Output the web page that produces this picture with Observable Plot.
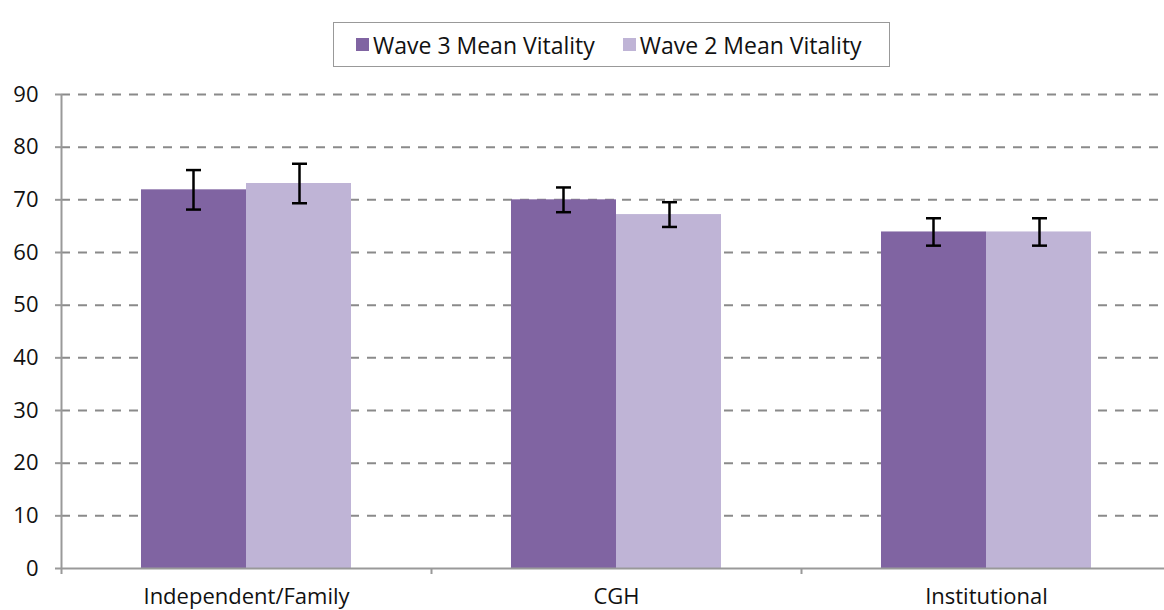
<!DOCTYPE html>
<html>
<head>
<meta charset="utf-8">
<script src="https://cdn.jsdelivr.net/npm/d3@7"></script>
<script src="https://cdn.jsdelivr.net/npm/@observablehq/plot@0.6"></script>
<style>
  html, body { margin: 0; padding: 0; background: #fff; }
  body { width: 1164px; height: 610px; overflow: hidden; font-family: "Open Sans", sans-serif; }
  #legend-area { position: relative; height: 70px; }
  #legend { position: absolute; left: 333px; top: 22px; width: 533px; height: 43px; padding-left: 22px;
    border: 1.5px solid #999; display: flex; align-items: center; justify-content: flex-start;
    font-size: 23px; color: #111; gap: 28px; }
  .item { display: flex; align-items: center; gap: 4px; }
  .sw { width: 13px; height: 13px; display: inline-block; }
  #chart svg { display: block; overflow: hidden; }
</style>
</head>
<body>
<div id="legend-area"><div id="legend"></div></div>
<div id="chart"></div>
<script>
const categories = ["Independent/Family", "CGH", "Institutional"];
const seriesNames = ["Wave 3 Mean Vitality", "Wave 2 Mean Vitality"];
const seriesColors = ["#8064A2", "#BFB4D6"];
const wave3 = [71.9, 70.0, 63.9];
const wave2 = [73.1, 67.2, 63.9];
const wave3Err = [3.75, 2.35, 2.6];
const wave2Err = [3.75, 2.35, 2.6];
const yTicks = [0, 10, 20, 30, 40, 50, 60, 70, 80, 90];

const rows3 = categories.map((c, i) => ({cat: c, value: wave3[i], err: wave3Err[i]}));
const rows2 = categories.map((c, i) => ({cat: c, value: wave2[i], err: wave2Err[i]}));

// legend
const legend = document.getElementById("legend");
seriesNames.forEach((s, i) => {
  const it = document.createElement("div");
  it.className = "item";
  const sw = document.createElement("span");
  sw.className = "sw";
  sw.style.background = seriesColors[i];
  const tx = document.createElement("span");
  tx.textContent = s;
  it.appendChild(sw); it.appendChild(tx);
  legend.appendChild(it);
});

const axisColor = "#999";
const font = "Open Sans, sans-serif";

const chart = Plot.plot({
  width: 1164,
  height: 540,
  marginTop: 24,
  marginBottom: 42,
  marginLeft: 61,
  marginRight: 0,
  style: {fontFamily: font, fontSize: "22px", color: "#111", background: "#fff", overflow: "hidden"},
  x: {domain: categories, range: [61, 1171], padding: 0, axis: null},
  y: {domain: [0, 90], axis: null},
  marks: [
    Plot.ruleY(yTicks.filter(t => t > 0), {y: d => d, stroke: "#8a8a8a", strokeWidth: 2, strokeDasharray: "9,8"}),
    Plot.barY(rows3, {x: "cat", y: "value", fill: seriesColors[0], insetLeft: 80, insetRight: 185}),
    Plot.barY(rows2, {x: "cat", y: "value", fill: seriesColors[1], insetLeft: 185, insetRight: 80}),
    // error bars
    Plot.ruleX(rows3, {x: "cat", y1: d => d.value - d.err, y2: d => d.value + d.err, dx: -53, stroke: "#000", strokeWidth: 2.5}),
    Plot.ruleX(rows2, {x: "cat", y1: d => d.value - d.err, y2: d => d.value + d.err, dx: 53, stroke: "#000", strokeWidth: 2.5}),
    Plot.tickY(rows3, {x: "cat", y: d => d.value - d.err, insetLeft: 125, insetRight: 230, stroke: "#000", strokeWidth: 2.5}),
    Plot.tickY(rows3, {x: "cat", y: d => d.value + d.err, insetLeft: 125, insetRight: 230, stroke: "#000", strokeWidth: 2.5}),
    Plot.tickY(rows2, {x: "cat", y: d => d.value - d.err, insetLeft: 231, insetRight: 124, stroke: "#000", strokeWidth: 2.5}),
    Plot.tickY(rows2, {x: "cat", y: d => d.value + d.err, insetLeft: 231, insetRight: 124, stroke: "#000", strokeWidth: 2.5}),
    // axes
    Plot.ruleY([0], {y: d => d, stroke: axisColor, strokeWidth: 2}),
    Plot.ruleX([categories[0]], {x: d => d, y1: () => 0, y2: () => 90, dx: -185, stroke: axisColor, strokeWidth: 2}),
    Plot.ruleX(categories, {x: d => d, y1: () => 0, y2: () => 0, dx: -185, insetBottom: -6, stroke: axisColor, strokeWidth: 2}),
    Plot.axisY({ticks: yTicks, tickSize: 6, tickPadding: 17, stroke: axisColor, strokeWidth: 2, tickFormat: d => String(d), fontSize: 22, fill: "#111", label: null}),
    Plot.axisX({tickSize: 0, tickPadding: 20, fontSize: 22, fill: "#111", label: null})
  ]
});
document.getElementById("chart").appendChild(chart);
</script>
</body>
</html>
